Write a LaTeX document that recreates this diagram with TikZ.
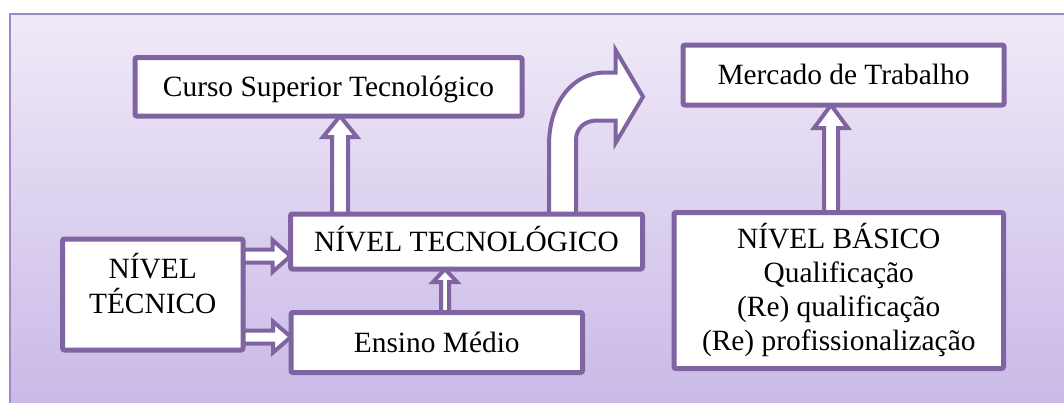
\documentclass[tikz,border=0pt]{standalone}
\usepackage{fontspec}
\setmainfont{Liberation Serif}
\usetikzlibrary{calc}

\definecolor{boxpurple}{RGB}{128,100,162}
\definecolor{framepurple}{RGB}{158,138,196}
\definecolor{bgtop}{RGB}{240,234,248}
\definecolor{bgbot}{RGB}{200,183,230}

\pgfdeclarelayer{backdrop}
\pgfdeclarelayer{arrowlayer}
\pgfsetlayers{backdrop,arrowlayer,main}

% upward block arrow: #1 foot, #2 tip, #3 shaft half width, #4 head half width, #5 head length
\newcommand\blkup[5]{%
  \draw[blockarrow] ($(#1)+(-#3,0)$) -- ($(#2)+(-#3,#5)$) -- ($(#2)+(-#4,#5)$)
    -- (#2) -- ($(#2)+(#4,#5)$) -- ($(#2)+(#3,#5)$) -- ($(#1)+(#3,0)$);}
% rightward block arrow: same parameters
\newcommand\blkright[5]{%
  \draw[blockarrow] ($(#1)+(0,-#3)$) -- ($(#2)+(-#5,-#3)$) -- ($(#2)+(-#5,-#4)$)
    -- (#2) -- ($(#2)+(-#5,#4)$) -- ($(#2)+(-#5,#3)$) -- ($(#1)+(0,#3)$);}

\begin{document}
\begin{tikzpicture}[x=1pt,y=-1pt,
  box/.style={draw=boxpurple, line width=5pt, fill=white, rounded corners=2pt,
    inner sep=0pt, outer sep=0pt, font=\fontsize{29.4}{34}\selectfont,
    text height=19.5pt, text depth=0pt},
  txt/.style={inner sep=0pt, outer sep=0pt, font=\fontsize{29.4}{34}\selectfont},
  blockarrow/.style={draw=boxpurple, line width=4pt, fill=white, line join=miter}]

\useasboundingbox (0,0) rectangle (1064,402);

% boxes
\node[box, minimum width=387pt, minimum height=58.5pt] (cst) at (328.5,86.75) {Curso Superior Tecnológico};
\node[box, minimum width=321pt, minimum height=60pt] (mt) at (843.5,75) {Mercado de Trabalho};
\node[box, minimum width=352pt, minimum height=55pt] (nt) at (466.5,241.5) {NÍVEL TECNOLÓGICO};
\node[box, minimum width=291.5pt, minimum height=60pt] (em) at (436.75,342.5) {Ensino Médio};
\node[box, minimum width=180.5pt, minimum height=111pt] (tec) at (152.75,294.5) {};
\node[box, minimum width=329.5pt, minimum height=156pt] (nb) at (838.75,290.5) {};

\node[txt, anchor=base] (tectext) at ($(tec.north)+(0,39)$)
  {\begin{tabular}[t]{@{}c@{}}NÍVEL\\ TÉCNICO\end{tabular}};
\node[txt, anchor=base] (nbtext) at ($(nb.north)+(0,35.5)$)
  {\begin{tabular}[t]{@{}c@{}}NÍVEL BÁSICO\\ Qualificação\\ (Re) qualificação\\ (Re) profissionalização\end{tabular}};

% background panel
\begin{pgfonlayer}{backdrop}
  \shade[top color=bgtop, bottom color=bgbot] (10,14) rectangle (1080,420);
  \draw[framepurple, line width=2pt] (10,420) -- (10,14) -- (1080,14);
\end{pgfonlayer}

% connectors
\begin{pgfonlayer}{arrowlayer}
  \coordinate (a1b) at ($(nt.north west)+(49.5,0)$);
  \coordinate (a1t) at (a1b |- cst.south);
  \blkup{a1b}{a1t}{8}{17}{21}

  \coordinate (a2b) at ($(em.north west)+(154,0)$);
  \coordinate (a2t) at (a2b |- nt.south);
  \blkup{a2b}{a2t}{4}{12}{13}

  \coordinate (a3b) at ($(nb.north west)+(157,0)$);
  \coordinate (a3t) at (a3b |- mt.south);
  \blkup{a3b}{a3t}{7}{17}{23}

  \coordinate (r1a) at ($(tec.north east)+(0,17)$);
  \coordinate (r1b) at (r1a -| nt.west);
  \blkright{r1a}{r1b}{6.5}{16}{18}

  \coordinate (r2a) at ($(tec.north east)+(0,98)$);
  \coordinate (r2b) at (r2a -| em.west);
  \blkright{r2a}{r2b}{6.5}{15.5}{18}

  % bent arrow rising from the technological level towards the labour market
  \coordinate (cb) at ($(nt.north west)+(258.5,0)$);
  \draw[blockarrow] (cb) -- ++(0,-69)
    .. controls +(0,-45) and +(-30,0) .. ++(56,-72.5)
    -- ++(10.5,0) -- ++(0,-22.5) -- ++(27.5,46.7) -- ++(-27.5,46.3)
    -- ++(0,-22.5) -- ++(-18.5,0)
    .. controls +(-12,0) and +(0,-12) .. ++(-21,19.5)
    -- ++(0,74);
\end{pgfonlayer}
\end{tikzpicture}
\end{document}
